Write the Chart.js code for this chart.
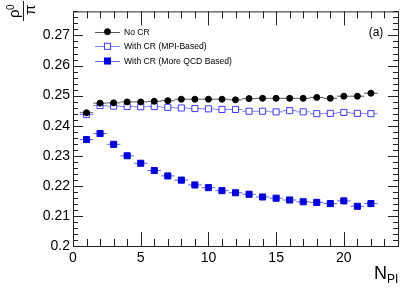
<!DOCTYPE html>
<html>
<head>
<meta charset="utf-8">
<script src="https://cdn.jsdelivr.net/npm/chart.js@4"></script>
<style>
  html, body { margin: 0; padding: 0; background: #fff; }
</style>
</head>
<body>
<canvas id="rhoChart" width="407" height="293"></canvas>
<script>
// values
const nPI = [1, 2, 3, 4, 5, 6, 7, 8, 9, 10, 11, 12, 13, 14, 15, 16, 17, 18, 19, 20, 21, 22];
const noCR = [0.2443, 0.2475, 0.2476, 0.2479, 0.2479, 0.2481, 0.2483, 0.2488, 0.2488, 0.2488, 0.2488,
  0.2486, 0.2490, 0.2491, 0.2491, 0.2491, 0.2491, 0.2494, 0.2491, 0.2498, 0.2498, 0.2508];
const mpiCR = [0.2437, 0.2467, 0.2465, 0.2464, 0.2463, 0.2464, 0.2461, 0.2459, 0.2457, 0.2456, 0.2454,
  0.2454, 0.2448, 0.2448, 0.2446, 0.2450, 0.2446, 0.2440, 0.2441, 0.2444, 0.2441, 0.2440];
const qcdCR = [0.2354, 0.2374, 0.2338, 0.2300, 0.2275, 0.2251, 0.2233, 0.2219, 0.2203, 0.2194, 0.2184,
  0.2177, 0.2172, 0.2163, 0.2159, 0.2153, 0.2147, 0.2145, 0.2141, 0.2150, 0.2132, 0.2141];
const seriesNames = ["No CR", "With CR (MPI-Based)", "With CR (More QCD Based)"];
const xTicks = [0, 5, 10, 15, 20];
const yTicks = [0.2, 0.21, 0.22, 0.23, 0.24, 0.25, 0.26, 0.27];
const xHalfWidth = 0.5;

const FONT = "'Liberation Sans', Arial, sans-serif";

const styles = [
  { pointStyle: "circle", radius: 3, fill: "#000000", stroke: "#000000", bar: "#555555" },
  { pointStyle: "rect", radius: 4.3, fill: "#ffffff", stroke: "#3c3cff", bar: "#8080f4" },
  { pointStyle: "rect", radius: 4.3, fill: "#0000d8", stroke: "#0000d8", bar: "#6464ee" },
];

function points(values) {
  return nPI.map((n, i) => ({ x: n, y: values[i] }));
}

// horizontal x-error bars, broken up with nulls
function bars(values) {
  const out = [];
  nPI.forEach((n, i) => {
    out.push({ x: n - xHalfWidth, y: values[i] });
    out.push({ x: n + xHalfWidth, y: values[i] });
    out.push({ x: n + xHalfWidth, y: null });
  });
  return out;
}

const allSeries = [noCR, mpiCR, qcdCR];
const datasets = [];
allSeries.forEach((vals, i) => {
  const s = styles[i];
  datasets.push({
    label: seriesNames[i] + " bars",
    data: bars(vals),
    showLine: true,
    spanGaps: false,
    borderColor: s.bar,
    borderWidth: 1,
    pointRadius: 0,
    order: 2,
  });
  datasets.push({
    label: seriesNames[i],
    data: points(vals),
    showLine: false,
    pointStyle: s.pointStyle,
    pointRadius: s.radius,
    backgroundColor: s.fill,
    borderColor: s.stroke,
    borderWidth: 1,
    order: 1,
  });
});

// frame with ROOT-like inward ticks on all four sides
const framePlugin = {
  id: "frame",
  afterDraw(chart) {
    const { ctx, chartArea: a, scales } = chart;
    const xs = scales.x, ys = scales.y;
    ctx.save();
    ctx.strokeStyle = "#222";
    ctx.lineWidth = 1;
    ctx.strokeRect(a.left + 0.5, a.top + 0.5, a.right - a.left, a.bottom - a.top);
    ctx.beginPath();
    for (let v = 0; v <= 24; v++) {
      const px = Math.round(xs.getPixelForValue(v)) + 0.5;
      const len = v % 5 === 0 ? 14 : 7;
      ctx.moveTo(px, a.bottom); ctx.lineTo(px, a.bottom - len);
      ctx.moveTo(px, a.top); ctx.lineTo(px, a.top + len);
    }
    for (let k = 0; k <= 39; k++) {
      const v = 0.2 + k * 0.002;
      const py = Math.round(ys.getPixelForValue(v)) + 0.5;
      const len = k % 5 === 0 ? 10 : 5;
      ctx.moveTo(a.left, py); ctx.lineTo(a.left + len, py);
      ctx.moveTo(a.right, py); ctx.lineTo(a.right - len, py);
    }
    ctx.stroke();

    // axis titles
    ctx.fillStyle = "#000";
    ctx.textBaseline = "alphabetic";
    ctx.font = "18px " + FONT;
    ctx.fillText("N", 374, 279);
    ctx.font = "12px " + FONT;
    ctx.fillText("PI", 387, 283);

    ctx.save();
    ctx.translate(24, 11);
    ctx.rotate(-Math.PI / 2);
    ctx.font = "15px " + FONT;
    ctx.fillText("\u03C1", -7, -5);
    ctx.font = "10px " + FONT;
    ctx.fillText("0", 1, -10);
    ctx.font = "15px " + FONT;
    ctx.fillText("\u03C0", -4, 11);
    ctx.restore();
    ctx.beginPath();
    ctx.moveTo(23.5, 1);
    ctx.lineTo(23.5, 21);
    ctx.stroke();

    ctx.font = "12px " + FONT;
    ctx.textAlign = "center";
    ctx.fillText("(a)", 376, 36);
    ctx.restore();
  },
};

// legend box in the upper left of the frame
const legendPlugin = {
  id: "rootLegend",
  afterDraw(chart) {
    const { ctx } = chart;
    const rows = [31.7, 46.3, 61];
    ctx.save();
    seriesNames.forEach((name, i) => {
      const s = styles[i];
      const y = rows[i];
      ctx.strokeStyle = s.bar;
      ctx.lineWidth = 1;
      ctx.beginPath();
      ctx.moveTo(95, Math.round(y) + 0.5);
      ctx.lineTo(120, Math.round(y) + 0.5);
      ctx.stroke();
      ctx.fillStyle = s.fill;
      ctx.strokeStyle = s.stroke;
      if (s.pointStyle === "circle") {
        ctx.beginPath();
        ctx.arc(107.5, y, s.radius, 0, Math.PI * 2);
        ctx.fill();
        ctx.stroke();
      } else {
        const side = s.radius * Math.SQRT2;
        ctx.fillRect(107.5 - side / 2, y - side / 2, side, side);
        ctx.strokeRect(107.5 - side / 2, y - side / 2, side, side);
      }
      ctx.fillStyle = "#000";
      ctx.font = "8.6px " + FONT;
      ctx.textBaseline = "middle";
      ctx.fillText(name, 124, y + 0.5);
    });
    ctx.restore();
  },
};

const ctx = document.getElementById("rhoChart").getContext("2d");
new Chart(ctx, {
  type: "scatter",
  data: { datasets: datasets },
  options: {
    responsive: false,
    animation: false,
    devicePixelRatio: 1,
    layout: { padding: { left: 0, right: 9, top: 5, bottom: 0 } },
    plugins: {
      legend: { display: false },
      tooltip: { enabled: false },
    },
    scales: {
      x: {
        type: "linear",
        min: 0,
        max: 24,
        grid: { display: false, drawTicks: false },
        border: { display: false },
        afterBuildTicks: (scale) => { scale.ticks = xTicks.map((v) => ({ value: v })); },
        afterFit: (scale) => { scale.height = 47; },
        ticks: {
          padding: 4,
          color: "#000",
          font: { family: FONT, size: 14 },
          maxRotation: 0,
          callback: (v) => String(v),
        },
      },
      y: {
        type: "linear",
        min: 0.2,
        max: 0.278,
        grid: { display: false, drawTicks: false },
        border: { display: false },
        afterBuildTicks: (scale) => { scale.ticks = yTicks.map((v) => ({ value: v })); },
        afterFit: (scale) => { scale.width = 73; },
        ticks: {
          padding: 3,
          color: "#000",
          font: { family: FONT, size: 14 },
          callback: (v) => String(Number(v.toFixed(3))),
        },
      },
    },
  },
  plugins: [framePlugin, legendPlugin],
});
</script>
</body>
</html>
